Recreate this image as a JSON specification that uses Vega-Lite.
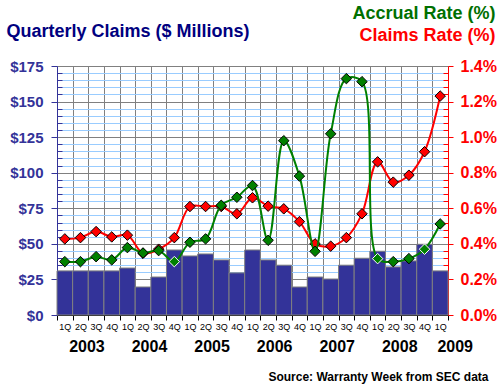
{
  "$schema": "https://vega.github.io/schema/vega-lite/v6.json",
  "width": 391,
  "height": 249,
  "autosize": "none",
  "padding": {"left": 57, "top": 66, "right": 52, "bottom": 70},
  "background": "white",
  "config": {"view": {"stroke": null}, "font": "Liberation Sans"},
  "data": {"values": [
    {"period": "2003 1Q", "claims": 31, "accrual": 0.300, "rate": 0.428},
    {"period": "2003 2Q", "claims": 31, "accrual": 0.300, "rate": 0.435},
    {"period": "2003 3Q", "claims": 31, "accrual": 0.328, "rate": 0.469},
    {"period": "2003 4Q", "claims": 31, "accrual": 0.310, "rate": 0.439},
    {"period": "2004 1Q", "claims": 33, "accrual": 0.379, "rate": 0.449},
    {"period": "2004 2Q", "claims": 19.7, "accrual": 0.349, "rate": 0.347},
    {"period": "2004 3Q", "claims": 26.7, "accrual": 0.362, "rate": 0.370},
    {"period": "2004 4Q", "claims": 45.7, "accrual": 0.300, "rate": 0.435},
    {"period": "2005 1Q", "claims": 41.5, "accrual": 0.409, "rate": 0.610},
    {"period": "2005 2Q", "claims": 42.9, "accrual": 0.428, "rate": 0.610},
    {"period": "2005 3Q", "claims": 38.7, "accrual": 0.617, "rate": 0.610},
    {"period": "2005 4Q", "claims": 29.6, "accrual": 0.662, "rate": 0.569},
    {"period": "2006 1Q", "claims": 45.7, "accrual": 0.728, "rate": 0.659},
    {"period": "2006 2Q", "claims": 38.7, "accrual": 0.420, "rate": 0.612},
    {"period": "2006 3Q", "claims": 35, "accrual": 0.980, "rate": 0.597},
    {"period": "2006 4Q", "claims": 19.7, "accrual": 0.781, "rate": 0.525},
    {"period": "2007 1Q", "claims": 26.7, "accrual": 0.358, "rate": 0.400},
    {"period": "2007 2Q", "claims": 25.3, "accrual": 1.019, "rate": 0.387},
    {"period": "2007 3Q", "claims": 35, "accrual": 1.329, "rate": 0.435},
    {"period": "2007 4Q", "claims": 39.9, "accrual": 1.312, "rate": 0.569},
    {"period": "2008 1Q", "claims": 44.8, "accrual": 0.317, "rate": 0.861},
    {"period": "2008 2Q", "claims": 33.8, "accrual": 0.300, "rate": 0.747},
    {"period": "2008 3Q", "claims": 38, "accrual": 0.317, "rate": 0.786},
    {"period": "2008 4Q", "claims": 49.7, "accrual": 0.370, "rate": 0.918},
    {"period": "2009 1Q", "claims": 31, "accrual": 0.512, "rate": 1.231}
  ]},
  "layer": [
    {
      "mark": {"type": "bar", "color": "#333399", "stroke": "#808080", "strokeWidth": 1},
      "encoding": {
        "x": {"field": "period", "type": "ordinal", "sort": null,
          "scale": {"paddingInner": 0, "paddingOuter": 0},
          "axis": {"title": null, "orient": "bottom", "tickBand": "extent", "grid": true, "gridColor": "#808080",
            "domainColor": "#000000", "tickColor": "#000000", "tickSize": 5,
            "labelExpr": "isString(datum.value) ? substring(datum.value, 5) : ''", "labelAngle": 0, "labelFontSize": 9, "labelColor": "#000000",
            "labelPadding": 2, "labelOverlap": false}},
        "y": {"field": "claims", "type": "quantitative",
          "scale": {"domain": [0, 175], "nice": false, "zero": true},
          "axis": {"orient": "left", "values": [0,5,10,15,20,25,30,35,40,45,50,55,60,65,70,75,80,85,90,95,100,105,110,115,120,125,130,135,140,145,150,155,160,165,170,175],
            "grid": true,
            "gridColor": {"condition": {"test": "datum.value % 25 === 0", "value": "#808080"}, "value": "#99ccff"},
            "tickSize": {"condition": {"test": "datum.value % 25 === 0", "value": 6}, "value": -5},
            "tickColor": "#333399", "domainColor": "#333399",
            "labelExpr": "datum.value % 25 === 0 ? '$' + datum.value : ''",
            "labelOverlap": false, "labelBound": false,
            "labelFontSize": 15, "labelFontWeight": "bold", "labelColor": "#333399", "labelPadding": 8,
            "title": "Quarterly Claims ($ Millions)", "titleAngle": 0, "titleX": -51, "titleY": -35,
            "titleAlign": "left", "titleBaseline": "middle", "titleFontSize": 18, "titleFontWeight": "bold",
            "titleColor": "#000080"}}
      }
    },
    {
      "mark": {"type": "line", "color": "#ff0000", "strokeWidth": 2, "interpolate": "catmull-rom"},
      "encoding": {
        "x": {"field": "period", "type": "ordinal", "sort": null,
          "scale": {"paddingInner": 0, "paddingOuter": 0},
          "axis": {"orient": "bottom", "domain": false, "ticks": false, "grid": false,
            "labelExpr": "!isString(datum.value) ? '' : (substring(datum.value, 5) === '2Q' ? substring(datum.value, 0, 4) : (datum.value === '2009 1Q' ? '2009' : ''))",
            "labelOffset": {"condition": {"test": "datum.value === '2009 1Q'", "value": 15}, "value": 6.5},
            "labelAngle": 0, "labelFontSize": 16, "labelFontWeight": "bold", "labelColor": "#000000",
            "labelPadding": 23, "labelOverlap": false, "labelBound": false,
            "title": "Source: Warranty Week from SEC data", "titleX": 431, "titleY": 61,
            "titleAlign": "right", "titleBaseline": "middle", "titleFontSize": 12, "titleFontWeight": "bold",
            "titleColor": "#000000"}},
        "y": {"field": "rate", "type": "quantitative",
          "scale": {"domain": [0, 1.4], "nice": false, "zero": true},
          "axis": {"orient": "right", "grid": false,
            "values": [0,0.04,0.08,0.12,0.16,0.2,0.24,0.28,0.32,0.36,0.4,0.44,0.48,0.52,0.56,0.6,0.64,0.68,0.72,0.76,0.8,0.84,0.88,0.92,0.96,1,1.04,1.08,1.12,1.16,1.2,1.24,1.28,1.32,1.36,1.4],
            "tickSize": {"condition": {"test": "abs(datum.value*5 - round(datum.value*5)) < 0.001", "value": 5}, "value": -5},
            "tickColor": "#ff0000", "domainColor": "#ff0000",
            "labelExpr": "abs(datum.value*5 - round(datum.value*5)) < 0.001 ? format(datum.value, '.1f') + '%' : ''",
            "labelOverlap": false, "labelBound": false,
            "labelFontSize": 16, "labelFontWeight": "bold", "labelColor": "#ff0000", "labelPadding": 7,
            "title": "Claims Rate (%)", "titleAngle": 0, "titleX": 47, "titleY": -31,
            "titleAlign": "right", "titleBaseline": "middle", "titleFontSize": 18, "titleFontWeight": "bold",
            "titleColor": "#ff0000"}}
      }
    },
    {
      "mark": {"type": "point", "shape": "diamond", "filled": true, "size": 110, "fill": "#ff0000", "stroke": "#000000", "strokeWidth": 1, "opacity": 1},
      "encoding": {
        "x": {"field": "period", "type": "ordinal", "sort": null, "scale": {"paddingInner": 0, "paddingOuter": 0}, "axis": null},
        "y": {"field": "rate", "type": "quantitative", "scale": {"domain": [0, 1.4], "nice": false, "zero": true}, "axis": null}
      }
    },
    {
      "mark": {"type": "line", "color": "#008000", "strokeWidth": 2, "interpolate": "catmull-rom"},
      "encoding": {
        "x": {"field": "period", "type": "ordinal", "sort": null, "scale": {"paddingInner": 0, "paddingOuter": 0}, "axis": null},
        "y": {"field": "accrual", "type": "quantitative",
          "scale": {"domain": [0, 1.4], "nice": false, "zero": true},
          "axis": {"orient": "right", "grid": false, "domain": false, "ticks": false, "labels": false,
            "title": "Accrual Rate (%)", "titleAngle": 0, "titleX": 47, "titleY": -53,
            "titleAlign": "right", "titleBaseline": "middle", "titleFontSize": 18, "titleFontWeight": "bold",
            "titleColor": "#007000"}}
      }
    },
    {
      "mark": {"type": "point", "shape": "diamond", "filled": true, "size": 110, "fill": "#008000", "strokeWidth": 1, "opacity": 1},
      "encoding": {
        "x": {"field": "period", "type": "ordinal", "sort": null, "scale": {"paddingInner": 0, "paddingOuter": 0}, "axis": null},
        "y": {"field": "accrual", "type": "quantitative", "scale": {"domain": [0, 1.4], "nice": false, "zero": true}, "axis": null},
        "stroke": {"condition": {"test": "datum.accrual * 125 < datum.claims", "value": "#ffffff"}, "value": "#000000"}
      }
    }
  ],
  "resolve": {"scale": {"y": "independent"}, "axis": {"x": "independent", "y": "independent"}}
}
